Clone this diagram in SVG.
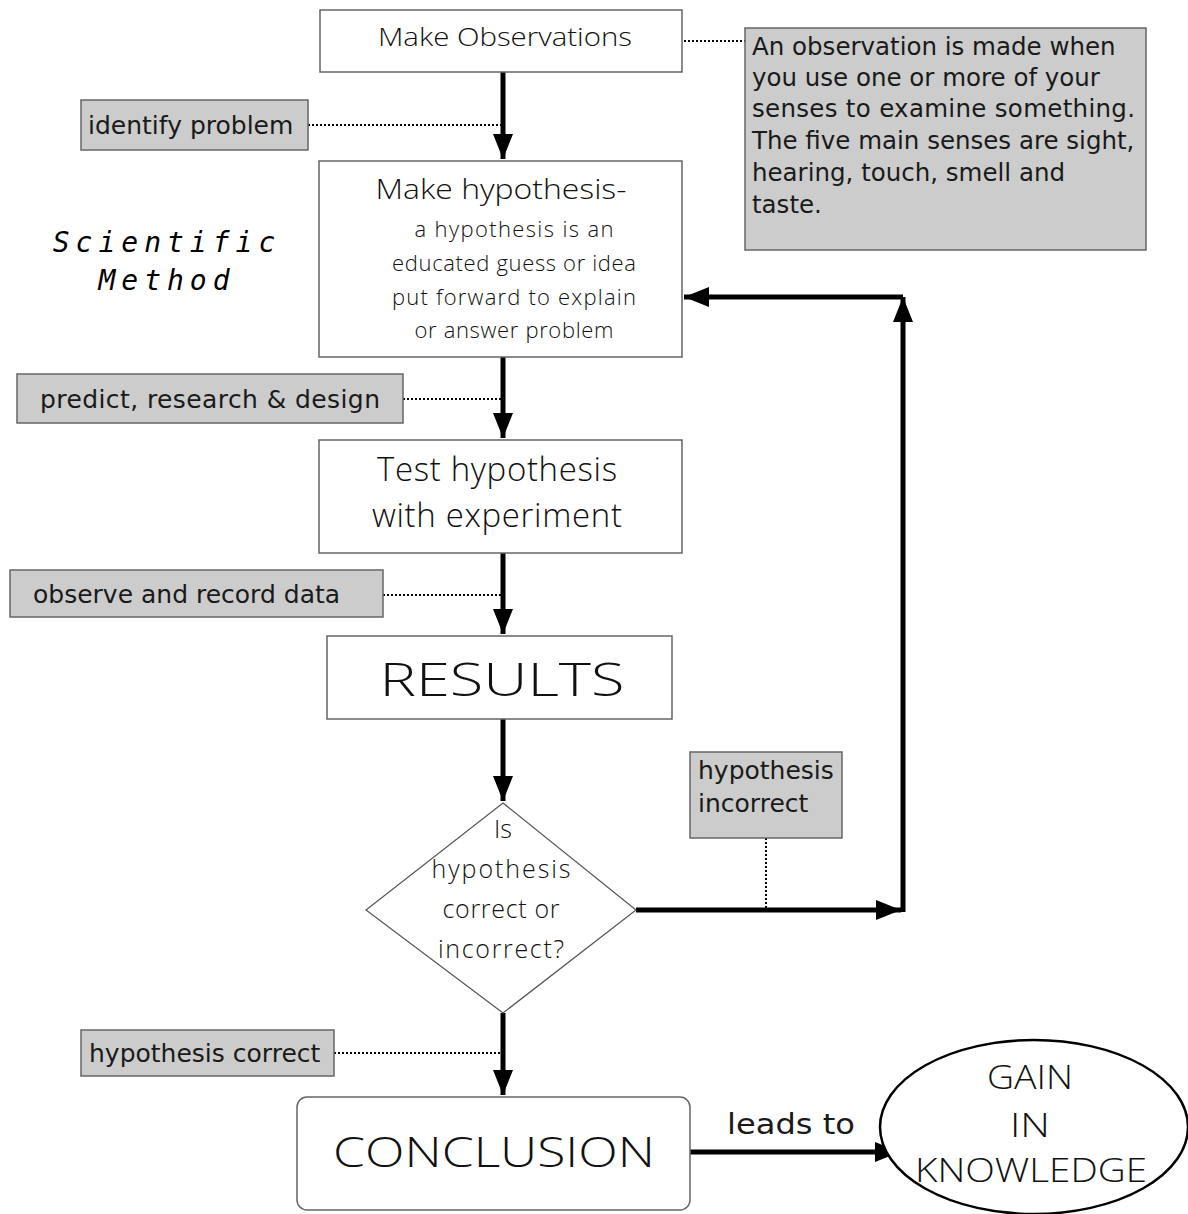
<svg xmlns="http://www.w3.org/2000/svg" width="1188" height="1214" viewBox="0 0 1188 1214">
<defs>
<style>
.box{fill:#fff;stroke:#666;stroke-width:1.5}
.note{fill:#cccccc;stroke:#666;stroke-width:1.5}
.hand{font-family:"Open Sans","Lato",sans-serif;font-weight:300;fill:#111;text-anchor:middle}
.lbl{font-family:"DejaVu Sans","Liberation Sans",sans-serif;fill:#1a1a1a}
.flow{fill:none;stroke:#000;stroke-width:5}
.dot{fill:none;stroke:#000;stroke-width:2;stroke-dasharray:2 2}
.title{font-family:"DejaVu Sans Mono","Liberation Mono",monospace;font-style:italic;font-size:28px;letter-spacing:6px;fill:#000;text-anchor:middle}
</style>
<marker id="ah" markerWidth="5" markerHeight="4" refX="5" refY="2" orient="auto" markerUnits="strokeWidth">
<path d="M0,0 L5,2 L0,4 Z" fill="#000"/>
</marker>
</defs>
<rect width="1188" height="1214" fill="#fff"/>

<g id="title">
<text class="title" x="167" y="252">Scientific</text>
<text class="title" x="167" y="290">Method</text>
</g>

<g id="connectors">
<line class="flow" x1="503" y1="72" x2="503" y2="159" marker-end="url(#ah)"/>
<line class="flow" x1="503" y1="357" x2="503" y2="438" marker-end="url(#ah)"/>
<line class="flow" x1="503" y1="553" x2="503" y2="634" marker-end="url(#ah)"/>
<line class="flow" x1="503" y1="719" x2="503" y2="801" marker-end="url(#ah)"/>
<line class="flow" x1="503" y1="1013" x2="503" y2="1095" marker-end="url(#ah)"/>
<line class="flow" x1="636" y1="910" x2="901" y2="910" marker-end="url(#ah)"/>
<line class="flow" x1="903" y1="912" x2="903" y2="297" marker-end="url(#ah)"/>
<line class="flow" x1="903" y1="297" x2="684" y2="297" marker-end="url(#ah)"/>
<line class="flow" x1="690" y1="1152" x2="900" y2="1152" marker-end="url(#ah)"/>
<line class="dot" x1="684" y1="41" x2="745" y2="41"/>
<line class="dot" x1="308" y1="125" x2="501" y2="125"/>
<line class="dot" x1="403" y1="399" x2="501" y2="399"/>
<line class="dot" x1="383" y1="595" x2="501" y2="595"/>
<line class="dot" x1="766" y1="838" x2="766" y2="908"/>
<line class="dot" x1="334" y1="1053" x2="501" y2="1053"/>
</g>

<g id="observations">
<rect class="box" x="320" y="10" width="362" height="62"/>
<text class="hand" x="505" y="46" font-size="25" textLength="254" lengthAdjust="spacingAndGlyphs">Make Observations</text>
</g>

<g id="observation-note">
<rect class="note" x="745" y="28" width="401" height="222"/>
<g class="lbl" font-size="24.5">
<text x="752" y="55">An observation is made when</text>
<text x="752" y="86">you use one or more of your</text>
<text x="752" y="117" textLength="383" lengthAdjust="spacing">senses to examine something.</text>
<text x="752" y="149">The five main senses are sight,</text>
<text x="752" y="181">hearing, touch, smell and</text>
<text x="752" y="213">taste.</text>
</g>
</g>

<g id="identify-problem">
<rect class="note" x="81" y="100" width="227" height="50"/>
<text class="lbl" x="88" y="134" font-size="25">identify problem</text>
</g>

<g id="hypothesis">
<rect class="box" x="319" y="161" width="363" height="196"/>
<text class="hand" x="501" y="199" font-size="28" textLength="251" lengthAdjust="spacingAndGlyphs">Make hypothesis-</text>
<text class="hand" x="514" y="237" font-size="22" textLength="199" lengthAdjust="spacing">a hypothesis is an</text>
<text class="hand" x="514" y="271" font-size="22" textLength="244" lengthAdjust="spacing">educated guess or idea</text>
<text class="hand" x="514" y="305" font-size="22" textLength="244" lengthAdjust="spacing">put forward to explain</text>
<text class="hand" x="514" y="338" font-size="22" textLength="199" lengthAdjust="spacing">or answer problem</text>
</g>

<g id="predict">
<rect class="note" x="17" y="374" width="386" height="49"/>
<text class="lbl" x="40" y="408" font-size="25" textLength="340" lengthAdjust="spacing">predict, research &amp; design</text>
</g>

<g id="test">
<rect class="box" x="319" y="440" width="363" height="113"/>
<text class="hand" x="497" y="481" font-size="33" textLength="240" lengthAdjust="spacing">Test hypothesis</text>
<text class="hand" x="497" y="527" font-size="33" textLength="250" lengthAdjust="spacing">with experiment</text>
</g>

<g id="observe-record">
<rect class="note" x="10" y="570" width="373" height="47"/>
<text class="lbl" x="33" y="603" font-size="25">observe and record data</text>
</g>

<g id="results">
<rect class="box" x="327" y="636" width="345" height="83"/>
<text class="hand" x="502" y="696" font-size="46" textLength="245" lengthAdjust="spacingAndGlyphs">RESULTS</text>
</g>

<g id="decision">
<polygon points="503,803 636,910 503,1013 366,910" fill="#fff" stroke="#555" stroke-width="1.2"/>
<text class="hand" x="503" y="838" font-size="25">Is</text>
<text class="hand" x="501" y="878" font-size="25" textLength="139" lengthAdjust="spacing">hypothesis</text>
<text class="hand" x="501" y="918" font-size="25" textLength="117" lengthAdjust="spacing">correct or</text>
<text class="hand" x="501" y="958" font-size="25" textLength="126" lengthAdjust="spacing">incorrect?</text>
</g>

<g id="hypothesis-incorrect">
<rect class="note" x="690" y="752" width="152" height="86"/>
<text class="lbl" x="698" y="779" font-size="25">hypothesis</text>
<text class="lbl" x="698" y="812" font-size="25">incorrect</text>
</g>

<g id="hypothesis-correct">
<rect class="note" x="81" y="1030" width="253" height="46"/>
<text class="lbl" x="89" y="1062" font-size="25">hypothesis correct</text>
</g>

<g id="conclusion">
<rect class="box" x="297" y="1097" width="393" height="113" rx="10"/>
<text class="hand" x="494" y="1167" font-size="42" textLength="322" lengthAdjust="spacingAndGlyphs">CONCLUSION</text>
</g>

<g id="leads-to">
<text class="lbl" x="727" y="1134" font-size="28" textLength="128" lengthAdjust="spacingAndGlyphs">leads to</text>
</g>

<g id="gain-knowledge">
<ellipse cx="1034" cy="1127" rx="154" ry="87" fill="#fff" stroke="#000" stroke-width="2.5"/>
<text class="hand" x="1030" y="1089" font-size="33" textLength="86" lengthAdjust="spacingAndGlyphs">GAIN</text>
<text class="hand" x="1030" y="1137" font-size="33" textLength="40" lengthAdjust="spacingAndGlyphs">IN</text>
<text class="hand" x="1031" y="1182" font-size="33" textLength="232" lengthAdjust="spacingAndGlyphs">KNOWLEDGE</text>
</g>
</svg>
